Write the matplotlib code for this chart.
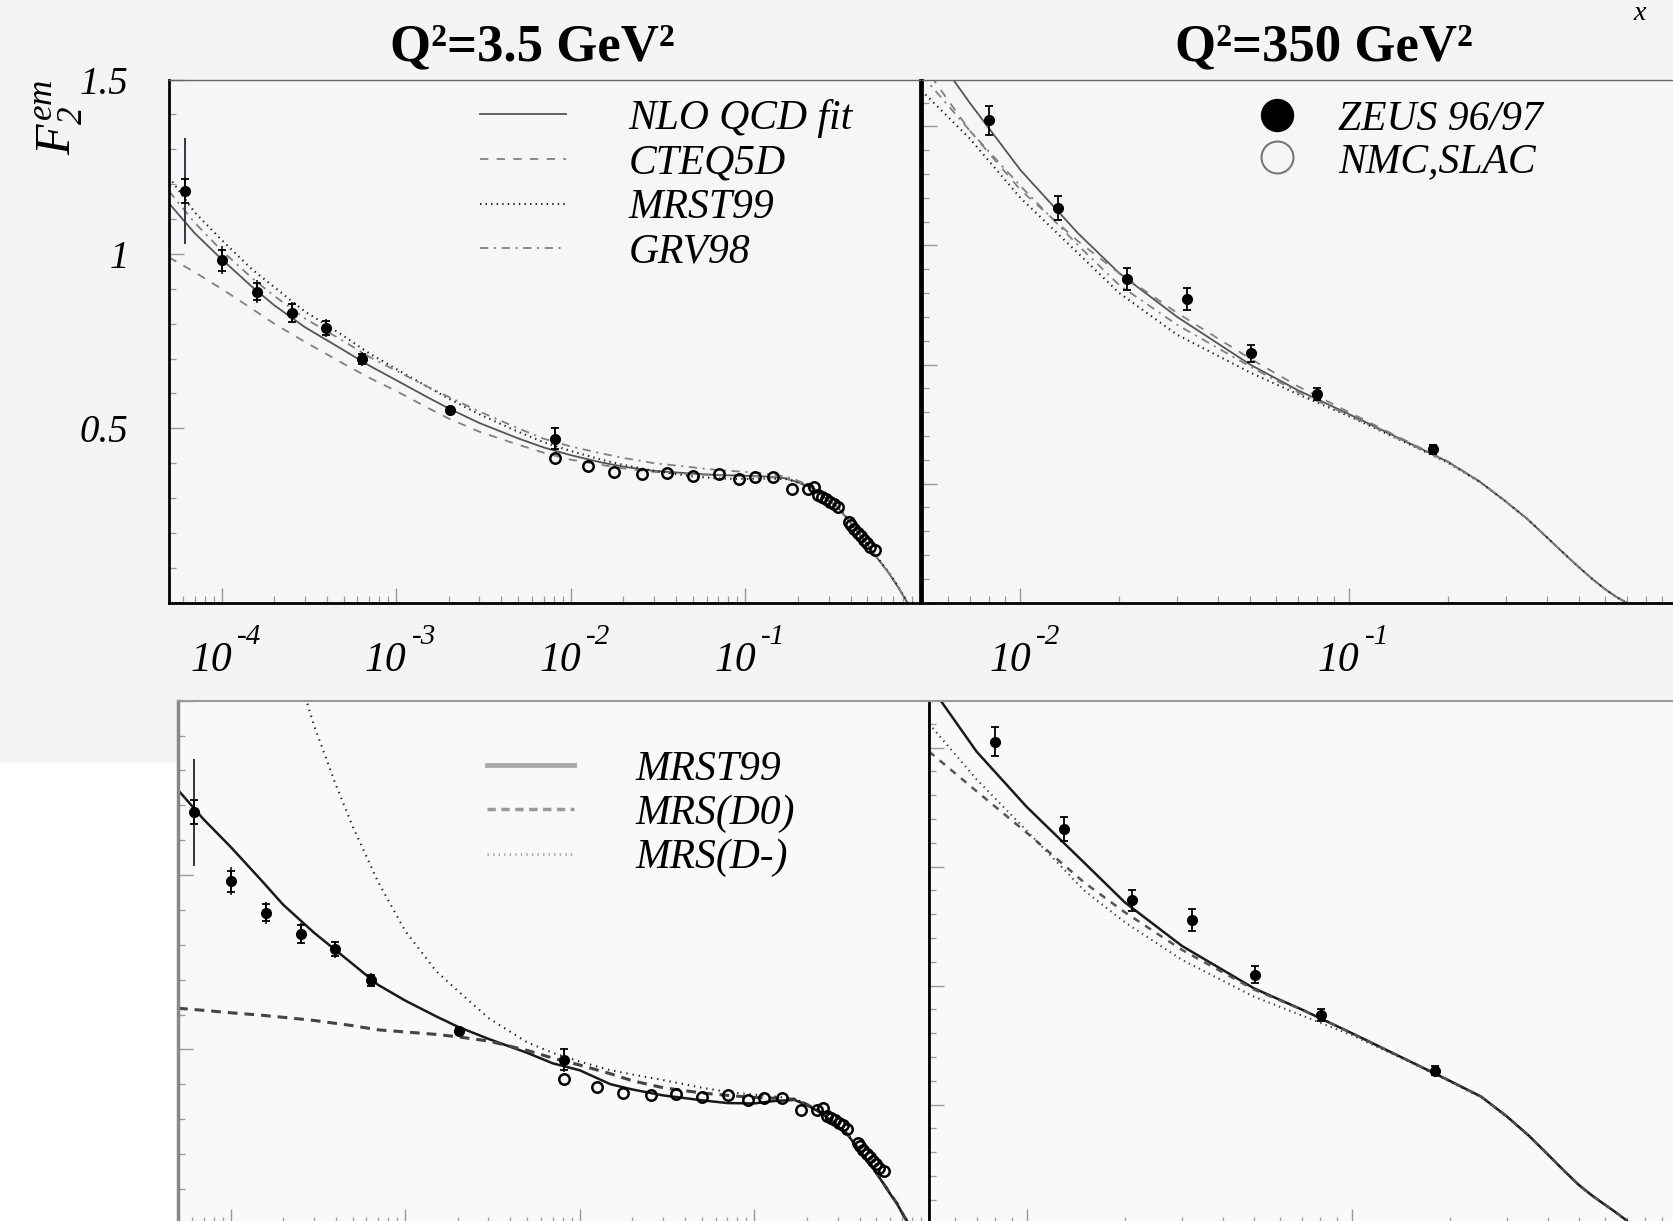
import numpy as np
import matplotlib
matplotlib.use('Agg')
import matplotlib.pyplot as plt
from matplotlib.lines import Line2D
from matplotlib.patches import Rectangle
from matplotlib.ticker import LogLocator, NullFormatter, FixedLocator, MultipleLocator

plt.rcParams['font.family'] = ['Liberation Serif', 'DejaVu Serif']
plt.rcParams['mathtext.fontset'] = 'custom'
plt.rcParams['mathtext.it'] = 'Liberation Serif:italic'
plt.rcParams['mathtext.rm'] = 'Liberation Serif:italic'
plt.rcParams['mathtext.bf'] = 'Liberation Serif:bold'
plt.rcParams['lines.scale_dashes'] = False

# ---------------- data: Q^2 = 3.5 GeV^2 ----------------
ZEUS_X_LO = [6.2e-5, 1.0e-4, 1.6e-4, 2.54e-4, 3.98e-4, 6.35e-4, 2.03e-3, 8.1e-3]
ZEUS_F2_LO = [1.18, 0.982, 0.892, 0.831, 0.787, 0.698, 0.552, 0.47]
ZEUS_STAT_LO = [0.035, 0.03, 0.025, 0.025, 0.02, 0.015, 0.008, 0.03]
ZEUS_TOT_LO = [0.153, 0.04, 0.032, 0.03, 0.025, 0.02, 0.01, 0.035]

NMC_X = [8.1e-3, 0.0126, 0.0177, 0.0255, 0.0354, 0.0503, 0.071, 0.092, 0.1136,
         0.1445, 0.184, 0.229, 0.247, 0.262, 0.275, 0.29, 0.305, 0.32, 0.34,
         0.39, 0.405, 0.42, 0.44, 0.46, 0.48, 0.5, 0.52, 0.55]
NMC_F2 = [0.414, 0.393, 0.374, 0.369, 0.373, 0.363, 0.369, 0.354, 0.361,
          0.361, 0.325, 0.325, 0.331, 0.31, 0.304, 0.298, 0.29, 0.283, 0.273,
          0.232, 0.222, 0.212, 0.2, 0.19, 0.18, 0.17, 0.16, 0.151]

X_LO = [5e-5, 7e-5, 1e-4, 1.5e-4, 2e-4, 3e-4, 5e-4, 7e-4, 1e-3, 1.5e-3, 2e-3,
        3e-3, 5e-3, 7e-3, 1e-2, 1.5e-2, 2e-2, 3e-2, 5e-2, 7e-2, 0.1, 0.13,
        0.17, 0.2, 0.24, 0.28, 0.34, 0.41, 0.48, 0.54, 0.6, 0.66, 0.72, 0.78, 0.84]
NLO_LO = [1.145, 1.06, 0.985, 0.905, 0.853, 0.79, 0.724, 0.68, 0.638, 0.59, 0.557,
          0.515, 0.471, 0.445, 0.423, 0.402, 0.39, 0.378, 0.37, 0.366, 0.364, 0.362,
          0.357, 0.345, 0.33, 0.305, 0.272, 0.222, 0.178, 0.143, 0.113, 0.086, 0.058, 0.03, 0.003]
CTEQ_LO = [0.99, 0.948, 0.9, 0.842, 0.80, 0.748, 0.685, 0.645, 0.607, 0.56, 0.528,
           0.49, 0.453, 0.43, 0.41, 0.395, 0.385, 0.375, 0.368, 0.365, 0.363, 0.361,
           0.356, 0.345, 0.33, 0.305, 0.272, 0.222, 0.178, 0.143, 0.113, 0.086, 0.058, 0.03, 0.003]
MRST_LO = [1.22, 1.12, 1.04, 0.955, 0.905, 0.835, 0.765, 0.715, 0.67, 0.62, 0.585,
           0.54, 0.49, 0.46, 0.435, 0.41, 0.395, 0.378, 0.362, 0.356, 0.355, 0.356,
           0.355, 0.345, 0.33, 0.307, 0.275, 0.225, 0.18, 0.145, 0.115, 0.088, 0.06, 0.032, 0.005]
GRV_LO = [1.18, 1.09, 1.01, 0.93, 0.88, 0.815, 0.75, 0.705, 0.665, 0.62, 0.59,
          0.548, 0.5, 0.47, 0.448, 0.428, 0.415, 0.4, 0.388, 0.38, 0.375, 0.37,
          0.362, 0.35, 0.333, 0.307, 0.274, 0.224, 0.179, 0.144, 0.114, 0.087, 0.059, 0.031, 0.004]

# bottom-left (MRS comparison)
MRST_B_LO = [1.244, 1.16, 1.081, 0.985, 0.915, 0.835, 0.745, 0.685, 0.64, 0.595, 0.565,
             0.53, 0.49, 0.46, 0.44, 0.40, 0.385, 0.368, 0.354, 0.346, 0.345, 0.352,
             0.355, 0.34, 0.318, 0.292, 0.257, 0.202, 0.158, 0.12, 0.085, 0.055, 0.02, -0.005, -0.03]
MRSD0_LO = [0.618, 0.612, 0.605, 0.598, 0.592, 0.583, 0.568, 0.556, 0.55, 0.543, 0.536,
            0.524, 0.497, 0.475, 0.455, 0.43, 0.41, 0.39, 0.375, 0.368, 0.362, 0.36,
            0.357, 0.342, 0.319, 0.293, 0.258, 0.203, 0.159, 0.121, 0.086, 0.056, 0.021, -0.005, -0.03]
X_DM_LO = [2.5e-4, 3e-4, 4e-4, 5e-4, 7e-4, 1e-3, 1.5e-3, 2e-3, 3e-3, 5e-3, 7e-3,
           1e-2, 1.5e-2, 2e-2, 3e-2, 5e-2, 7e-2, 0.1, 0.13, 0.17, 0.2, 0.24,
           0.28, 0.34, 0.41, 0.48, 0.54, 0.6, 0.66, 0.72, 0.78, 0.84]
MRSDM_LO = [1.56, 1.43, 1.26, 1.14, 0.98, 0.84, 0.725, 0.668, 0.59, 0.52, 0.49,
            0.465, 0.44, 0.428, 0.412, 0.39, 0.378, 0.37, 0.365, 0.358, 0.343, 0.32,
            0.294, 0.259, 0.204, 0.16, 0.122, 0.087, 0.057, 0.022, -0.004, -0.03]

# ---------------- data: Q^2 = 350 GeV^2 ----------------
ZEUS_X_HI = [8.0e-3, 0.013, 0.0211, 0.0321, 0.0502, 0.0802, 0.18]
ZEUS_F2_HI = [1.215, 0.995, 0.815, 0.765, 0.628, 0.525, 0.386]
ZEUS_ERR_HI = [0.036, 0.03, 0.027, 0.028, 0.022, 0.015, 0.012]

X_HI = [5e-3, 7e-3, 1e-2, 1.5e-2, 2e-2, 3e-2, 5e-2, 7e-2, 0.1, 0.15, 0.2, 0.25,
        0.3, 0.35, 0.4, 0.45, 0.5, 0.55, 0.6, 0.65, 0.7]
NLO_HI = [1.43, 1.26, 1.09, 0.93, 0.83, 0.72, 0.60, 0.535, 0.475, 0.405, 0.355, 0.305,
          0.255, 0.21, 0.165, 0.125, 0.09, 0.06, 0.035, 0.015, 0.0]
CTEQ_HI = [1.36, 1.19, 1.04, 0.91, 0.83, 0.73, 0.615, 0.545, 0.48, 0.407, 0.356, 0.306,
           0.256, 0.21, 0.165, 0.125, 0.09, 0.06, 0.035, 0.015, 0.0]
MRST_HI = [1.29, 1.17, 1.02, 0.88, 0.78, 0.675, 0.58, 0.525, 0.47, 0.402, 0.353, 0.304,
           0.255, 0.21, 0.165, 0.125, 0.09, 0.06, 0.035, 0.015, 0.0]
GRV_HI = [1.33, 1.19, 1.05, 0.90, 0.80, 0.70, 0.595, 0.53, 0.472, 0.403, 0.354, 0.305,
          0.255, 0.21, 0.165, 0.125, 0.09, 0.06, 0.035, 0.015, 0.0]
MRST_B_HI = [1.36, 1.19, 1.05, 0.91, 0.81, 0.70, 0.593, 0.54, 0.48, 0.41, 0.36, 0.32,
             0.27, 0.222, 0.175, 0.133, 0.097, 0.07, 0.048, 0.028, 0.008]
MRSD0_HI = [1.19, 1.09, 0.985, 0.86, 0.785, 0.69, 0.59, 0.54, 0.48, 0.41, 0.36, 0.32,
            0.27, 0.222, 0.175, 0.133, 0.097, 0.07, 0.048, 0.028, 0.008]
MRSDM_HI = [1.26, 1.12, 0.99, 0.84, 0.76, 0.665, 0.572, 0.525, 0.475, 0.408, 0.358, 0.318,
            0.268, 0.221, 0.174, 0.132, 0.096, 0.069, 0.047, 0.027, 0.007]

TITLES = ['Q²=3.5 GeV²', 'Q²=350 GeV²']
LEG_TOP = ['NLO QCD fit', 'CTEQ5D', 'MRST99', 'GRV98']
LEG_DATA = ['ZEUS 96/97', 'NMC,SLAC']
LEG_BOT = ['MRST99', 'MRS(D0)', 'MRS(D-)']
XT_LO = [1e-4, 1e-3, 1e-2, 1e-1]
XT_HI = [1e-2, 1e-1]
XEXP_LO = ['-4', '-3', '-2', '-1']
XEXP_HI = ['-2', '-1']

# ---------------- figure ----------------
W, H = 1674, 1221
fig = plt.figure(figsize=(W / 100, H / 100), dpi=100, facecolor='#f4f4f4')
fig.add_artist(Rectangle((0, 0), 178 / W, (H - 762) / H, transform=fig.transFigure,
                         facecolor='white', edgecolor='none', zorder=-5))


def px_axes(left, top, width, height):
    return fig.add_axes([left / W, 1 - (top + height) / H, width / W, height / H])


def style(ax, xlim, ylim, face, xt, ymaj, ymin):
    ax.set_xscale('log')
    ax.set_xlim(*xlim)
    ax.set_ylim(*ylim)
    ax.set_facecolor(face)
    ax.xaxis.set_major_locator(FixedLocator(xt))
    ax.xaxis.set_minor_locator(LogLocator(base=10, subs=np.arange(2, 10), numticks=30))
    ax.xaxis.set_minor_formatter(NullFormatter())
    ax.yaxis.set_major_locator(ymaj)
    ax.yaxis.set_minor_locator(ymin)
    ax.tick_params(which='both', direction='in', top=False, right=False, color='#999999')
    ax.tick_params(which='major', length=11, width=1.0)
    ax.tick_params(which='minor', length=5, width=0.9)
    ax.tick_params(labelbottom=False)


TL = px_axes(169, 79.5, 751, 523.2)
TR = px_axes(921.5, 79.5, 756, 523.2)
BL = px_axes(178, 700.7, 751, 523)
BR = px_axes(929, 700.7, 748, 523)

style(TL, (5e-5, 1.0), (0, 1.5), '#f6f6f6', XT_LO, FixedLocator([0, 0.5, 1.0, 1.5]), MultipleLocator(0.1))
style(BL, (5e-5, 1.0), (0, 1.5), '#f9f9f9', XT_LO, FixedLocator([0, 0.5, 1.0, 1.5]), MultipleLocator(0.1))
style(TR, (5e-3, 1.0), (0, 1.318), '#f6f6f6', XT_HI, MultipleLocator(0.3), MultipleLocator(0.06))
style(BR, (5e-3, 1.0), (0, 1.318), '#f9f9f9', XT_HI, MultipleLocator(0.3), MultipleLocator(0.06))

TL.set_yticklabels(['', '0.5', '1', '1.5'], fontsize=28, fontstyle='italic')
TL.tick_params(axis='y', which='major', pad=29)
TR.tick_params(labelleft=False)
for ax in (BL, BR):
    ax.tick_params(labelleft=False)


def xlabels(ax, ticks, exps):
    for t, e in zip(ticks, exps):
        ax.annotate('10', xy=(t, 0), xycoords=('data', 'axes fraction'), xytext=(-7.5, -42),
                    textcoords='offset points', ha='center', va='center', fontsize=30,
                    style='italic', annotation_clip=False)
        ax.annotate(e, xy=(t, 0), xycoords=('data', 'axes fraction'), xytext=(20, -25),
                    textcoords='offset points', ha='center', va='center', fontsize=21,
                    style='italic', annotation_clip=False)


xlabels(TL, XT_LO, XEXP_LO)
xlabels(TR, XT_HI, XEXP_HI)

# spines
for sp in ('left', 'bottom', 'right'):
    TL.spines[sp].set_color('black'); TL.spines[sp].set_linewidth(2)
TL.spines['top'].set_color('#666666'); TL.spines['top'].set_linewidth(1)
for sp in ('left', 'bottom'):
    TR.spines[sp].set_color('black'); TR.spines[sp].set_linewidth(2)
TR.spines['top'].set_color('#666666'); TR.spines['top'].set_linewidth(1)
TR.spines['right'].set_visible(False)
BL.spines['left'].set_color('#888888'); BL.spines['left'].set_linewidth(2.5)
BL.spines['top'].set_color('#999999'); BL.spines['top'].set_linewidth(1.5)
BL.spines['right'].set_color('#555555'); BL.spines['right'].set_linewidth(2)
BL.spines['bottom'].set_color('black'); BL.spines['bottom'].set_linewidth(2)
BR.spines['left'].set_color('black'); BR.spines['left'].set_linewidth(2)
BR.spines['top'].set_color('#999999'); BR.spines['top'].set_linewidth(1.5)
BR.spines['right'].set_visible(False)
BR.spines['bottom'].set_color('black'); BR.spines['bottom'].set_linewidth(2)

# line styles
S_SOLID = dict(color='#555555', lw=1.3, ls='-')
S_DASH = dict(color='#808080', lw=1.3, ls=(0, (6, 6)))
S_DOT = dict(color='#222222', lw=1.5, ls=(0, (1, 3)))
S_DDOT = dict(color='#808080', lw=1.3, ls=(0, (6, 4, 1.5, 4)))

# --- top-left ---
h1, = TL.plot(X_LO, NLO_LO, **S_SOLID)
h2, = TL.plot(X_LO, CTEQ_LO, **S_DASH)
h3, = TL.plot(X_LO, MRST_LO, **S_DOT)
h4, = TL.plot(X_LO, GRV_LO, **S_DDOT)

# --- top-right ---
TR.plot(X_HI, NLO_HI, **S_SOLID)
TR.plot(X_HI, CTEQ_HI, **S_DASH)
TR.plot(X_HI, MRST_HI, **S_DOT)
TR.plot(X_HI, GRV_HI, **S_DDOT)

# --- bottom-left ---
BL.plot(X_LO, MRST_B_LO, color='#1a1a1a', lw=1.8)
BL.plot(X_LO, MRSD0_LO, color='#444444', lw=2.2, ls=(0, (7, 5)))
BL.plot(X_DM_LO, MRSDM_LO, color='#222222', lw=1.5, ls=(0, (1, 3.5)))

# --- bottom-right ---
BR.plot(X_HI, MRST_B_HI, color='#1a1a1a', lw=1.8)
BR.plot(X_HI, MRSD0_HI, color='#555555', lw=1.8, ls=(0, (5, 5)))
BR.plot(X_HI, MRSDM_HI, color='#444444', lw=1.5, ls=(0, (1, 3)))


def draw_low(ax):
    ax.errorbar(ZEUS_X_LO, ZEUS_F2_LO, yerr=ZEUS_TOT_LO, fmt='none', ecolor='#2a3a40',
                elinewidth=1.4, capsize=0, zorder=4)
    ax.errorbar(ZEUS_X_LO, ZEUS_F2_LO, yerr=ZEUS_STAT_LO, fmt='o', color='black', ms=7,
                elinewidth=1.3, capsize=3, capthick=1.3, zorder=5)
    ax.plot(NMC_X, NMC_F2, 'o', mfc='none', mec='black', mew=1.8, ms=7.5, zorder=5)


def draw_high(ax):
    ax.errorbar(ZEUS_X_HI, ZEUS_F2_HI, yerr=ZEUS_ERR_HI, fmt='o', color='black', ms=7,
                elinewidth=1.3, capsize=3, capthick=1.3, zorder=5)


draw_low(TL); draw_low(BL)
draw_high(TR); draw_high(BR)

# legends
leg_font = dict(family='Liberation Serif', style='italic', size=30)
TL.legend([h1, h2, h3, h4], LEG_TOP, loc='upper left', bbox_to_anchor=(480 / W, 1 - 99 / H),
          bbox_transform=fig.transFigure, prop=leg_font, frameon=False, borderpad=0,
          borderaxespad=0, handlelength=2.06, handletextpad=1.51, labelspacing=0.146)

hd1 = Line2D([], [], marker='o', ls='none', color='black', markersize=23)
hd2 = Line2D([], [], marker='o', ls='none', mfc='none', mec='#777777', mew=1.5, markersize=23)
TR.legend([hd1, hd2], LEG_DATA, loc='upper left', bbox_to_anchor=(1256 / W, 1 - 100 / H),
          bbox_transform=fig.transFigure, prop=leg_font, frameon=False, borderpad=0,
          borderaxespad=0, handlelength=1.0, handletextpad=0.98, labelspacing=0.09)

hb1 = Line2D([], [], color='#aaaaaa', lw=3.5)
hb2 = Line2D([], [], color='#999999', lw=2.5, ls=(0, (6, 4)))
hb3 = Line2D([], [], color='#aaaaaa', lw=2.0, ls=(0, (1, 3)))
BL.legend([hb1, hb2, hb3], LEG_BOT, loc='upper left', bbox_to_anchor=(487.5 / W, 1 - 750 / H),
          bbox_transform=fig.transFigure, prop=leg_font, frameon=False, borderpad=0,
          borderaxespad=0, handlelength=2.07, handletextpad=1.49, labelspacing=0.14)

# titles & labels
fig.text(532 / W, 1 - 47 / H, TITLES[0], ha='center', va='center', fontsize=38,
         fontweight='bold', family='Liberation Serif')
fig.text(1324 / W, 1 - 47 / H, TITLES[1], ha='center', va='center', fontsize=38,
         fontweight='bold', family='Liberation Serif')
fig.text(59 / W, 1 - 117 / H, r'$F_2^{em}$', rotation=90, ha='center', va='center', fontsize=36)
fig.text(1640 / W, 1 - 14 / H, 'x', ha='center', va='center', fontsize=20, style='italic')

fig.savefig('out.png', dpi=100, facecolor=fig.get_facecolor())
